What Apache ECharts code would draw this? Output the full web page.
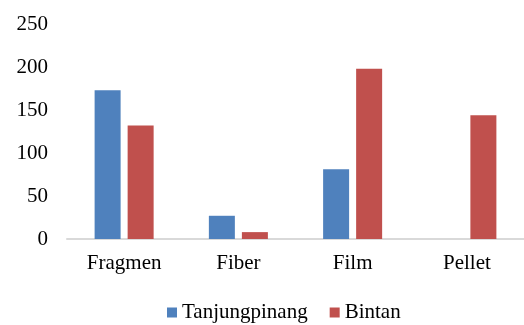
<!DOCTYPE html>
<html>
<head>
<meta charset="utf-8">
<script src="https://cdn.jsdelivr.net/npm/echarts@6/dist/echarts.min.js"></script>
<style>
  html, body { margin: 0; padding: 0; background: #ffffff; }
  #chart { width: 524px; height: 325px; }
</style>
</head>
<body>
<div id="chart"></div>
<script>
// Microplastic shape categories and counts per location
const categories = ['Fragmen', 'Fiber', 'Film', 'Pellet'];
const tanjungpinang = [173, 27, 81, 0];
const bintan = [132, 8, 198, 144];
const yTicks = [0, 50, 100, 150, 200, 250];

const font = 'Liberation Serif, Times New Roman, serif';

const chart = echarts.init(document.getElementById('chart'), null, { renderer: 'canvas' });
chart.setOption({
  animation: false,
  backgroundColor: '#ffffff',
  grid: { left: 67, top: 24, width: 468, height: 215 },
  legend: {
    data: ['Tanjungpinang', 'Bintan'],
    left: 167,
    top: 302,
    padding: 0,
    itemWidth: 10,
    itemHeight: 10,
    itemGap: 22,
    icon: 'rect',
    textStyle: { fontFamily: font, fontSize: 21, color: '#000000' }
  },
  xAxis: {
    type: 'category',
    data: categories,
    axisLine: { lineStyle: { color: '#d9d9d9', width: 2 } },
    axisTick: { show: false },
    axisLabel: { fontFamily: font, fontSize: 21, color: '#000000', margin: 14 }
  },
  yAxis: {
    type: 'value',
    min: yTicks[0],
    max: yTicks[yTicks.length - 1],
    interval: 50,
    splitLine: { show: false },
    axisLine: { show: false },
    axisTick: { show: false },
    axisLabel: { fontFamily: font, fontSize: 21, color: '#000000', margin: 19 }
  },
  series: [
    {
      name: 'Tanjungpinang',
      type: 'bar',
      data: tanjungpinang,
      barWidth: 26,
      barGap: '27%',
      itemStyle: { color: '#4F81BD' }
    },
    {
      name: 'Bintan',
      type: 'bar',
      data: bintan,
      barWidth: 26,
      itemStyle: { color: '#C0504D' }
    }
  ]
});
</script>
</body>
</html>
